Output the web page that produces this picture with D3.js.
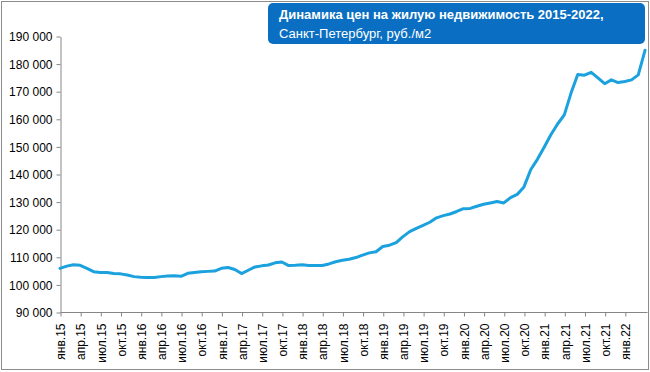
<!DOCTYPE html>
<html>
<head>
<meta charset="utf-8">
<script src="https://cdn.jsdelivr.net/npm/d3@7"></script>
<style>
body{margin:0;background:#fff;}
.ylab{font-family:"Liberation Sans",Arial,sans-serif;font-size:12px;fill:#000;}
.xlab{font-family:"Liberation Sans",Arial,sans-serif;font-size:12px;fill:#000;}
.ttl{font-family:"Liberation Sans",Arial,sans-serif;fill:#fff;}
</style>
</head>
<body>
<script>
var width=650, height=372;
var monthNames=["янв","фев","мар","апр","май","июн","июл","авг","сен","окт","ноя","дек"];
var startYear=15;
// price per m2, monthly from Jan 2015 to Apr 2022
var prices=[
	106000,106800,107300,107100,106000,104800,104500,104500,104100,104000,103600,103000,
	102800,102700,102700,103000,103200,103300,103100,104200,104500,104800,104900,105000,
	106000,106300,105600,104100,105300,106500,106900,107200,108000,108300,107000,107100,
	107300,107000,107000,107000,107600,108400,108900,109300,109900,110800,111600,112000,
	113900,114400,115300,117500,119300,120500,121600,122700,124300,125100,125700,126600,
	127600,127700,128500,129200,129700,130200,129700,131600,132800,135500,141700,145500,
	149900,154400,158300,161600,169500,176200,176000,177000,175000,172900,174300,173300,
	173700,174300,176100,185000
];
var yTicks=[90000,100000,110000,120000,130000,140000,150000,160000,170000,180000,190000];
var titleLine1="Динамика цен на жилую недвижимость 2015-2022,";
var titleLine2="Санкт-Петербург, руб./м2";

var months=prices.map(function(d,i) {
	return monthNames[i%12]+"."+(startYear+Math.floor(i/12));
});

var svg=d3.select("body").append("svg").attr("width",width).attr("height",height);

svg.append("rect").attr("x",1.5).attr("y",1.5).attr("width",647).attr("height",368)
	.attr("fill","#fff").attr("stroke","#8c8c8c");

var x=d3.scalePoint().domain(d3.range(prices.length)).range([60,645]);
var y=d3.scaleLinear().domain([90000,190000]).range([312.5,36.5]);

var fmt=function(d) {return d3.format(",")(d).replace(/,/g," ");};

// y axis
var yAxis=svg.append("g").attr("transform","translate(60.5,0)")
	.call(d3.axisLeft(y).tickValues(yTicks).tickSize(4).tickSizeOuter(0).tickFormat(fmt));
yAxis.select(".domain").attr("stroke","#868686");
yAxis.selectAll(".tick line").attr("stroke","#868686");
yAxis.selectAll("text").attr("class","ylab").attr("x",-8).attr("dy","0.35em");

// x axis, tick every quarter (last quarter has no label in the original)
var qTicks=d3.range(0,prices.length-3,3);
var xAxis=svg.append("g").attr("transform","translate(0.5,"+y(90000)+")")
	.call(d3.axisBottom(x).tickValues(qTicks).tickSize(4).tickSizeOuter(0)
		.tickFormat(function(d) {return months[d];}));
xAxis.select(".domain").attr("stroke","#868686").attr("d","M60,0H647");
xAxis.selectAll(".tick line").attr("stroke","#868686");
xAxis.selectAll("text").attr("class","xlab")
	.attr("transform","rotate(-90)")
	.attr("x",-11).attr("y",0).attr("dy","0.35em")
	.attr("text-anchor","end");

// price line
var line=d3.line().x(function(d,i) {return x(i);}).y(function(d) {return y(d);});
svg.append("path").datum(prices).attr("d",line)
	.attr("fill","none").attr("stroke","#1ba1dd").attr("stroke-width",3)
	.attr("stroke-linejoin","round").attr("stroke-linecap","round");

// title box
svg.append("rect").attr("x",268).attr("y",3).attr("width",377).attr("height",41)
	.attr("rx",5).attr("fill","#0a6fc2");
svg.append("text").attr("class","ttl").attr("x",279).attr("y",19)
	.style("font-size","13px").style("font-weight","bold").text(titleLine1);
svg.append("text").attr("class","ttl").attr("x",279).attr("y",38)
	.style("font-size","13px").text(titleLine2);
</script>
</body>
</html>
